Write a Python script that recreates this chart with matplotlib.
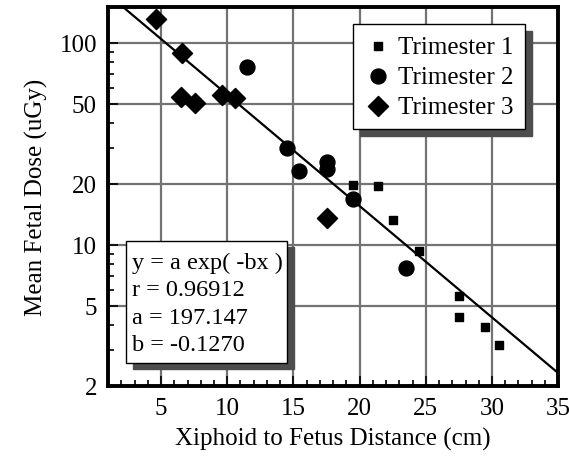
import numpy as np
import matplotlib.pyplot as plt
from matplotlib.ticker import FixedLocator, NullFormatter, LogLocator
from matplotlib.patches import Rectangle

plt.rcParams['font.family'] = ['Liberation Serif', 'DejaVu Serif']
plt.rcParams['font.size'] = 18

# dose vs. distance, per trimester
t1_x = [19.5, 21.4, 22.5, 24.5, 27.5, 27.5, 29.5, 30.5]
t1_y = [19.7, 19.6, 13.3, 9.3, 5.6, 4.4, 3.9, 3.2]
t2_x = [11.5, 14.5, 15.4, 17.5, 17.5, 19.5, 23.5]
t2_y = [76, 30, 23.3, 25.8, 23.8, 16.8, 7.7]
t3_x = [4.6, 6.6, 6.5, 7.6, 9.6, 10.6, 17.5]
t3_y = [131, 89, 54, 50.5, 55, 53.5, 13.5]

# exponential fit
fit_a = 197.147
fit_b = -0.1270
fit_r = 0.96912

fig = plt.figure(figsize=(5.69, 4.60), dpi=100)
ax = fig.add_axes([0.19, 0.159, 0.791, 0.823])
ax.set_yscale('log')
ax.set_xlim(1, 35)
ax.set_ylim(2, 150)

xs = np.linspace(1, 35, 200)
ax.plot(xs, fit_a * np.exp(fit_b * xs), color='black', lw=1.6, zorder=3)

ax.scatter(t1_x, t1_y, marker='s', s=26, color='black', zorder=4, label='Trimester 1')
ax.scatter(t2_x, t2_y, marker='o', s=115, color='black', zorder=4, label='Trimester 2')
ax.scatter(t3_x, t3_y, marker='D', s=105, color='black', zorder=4, label='Trimester 3')

ax.set_xticks([5, 10, 15, 20, 25, 30, 35])
ax.xaxis.set_minor_locator(FixedLocator(np.arange(1, 36, 1)))
ax.yaxis.set_major_locator(FixedLocator([2, 5, 10, 20, 50, 100]))
ax.yaxis.set_major_formatter(plt.FixedFormatter(['2', '5', '10', '20', '50', '100']))
ax.yaxis.set_minor_locator(LogLocator(base=10, subs=np.arange(2, 10)))
ax.yaxis.set_minor_formatter(NullFormatter())
ax.tick_params(which='both', direction='in', width=1.2)
ax.tick_params(which='major', length=7, pad=8)
ax.tick_params(which='minor', length=4)

ax.grid(True, which='major', color='0.45', lw=1.6)
ax.set_axisbelow(True)
for sp in ax.spines.values():
    sp.set_linewidth(2.8)

ax.set_xlabel('Xiphoid to Fetus Distance (cm)', labelpad=6)
ax.set_ylabel('Mean Fetal Dose (uGy)', labelpad=8)

# legend box
leg = ax.legend(loc='upper left', bbox_to_anchor=(0.544, 0.956), borderaxespad=0,
                fancybox=False, edgecolor='black', framealpha=1, borderpad=0.45,
                labelspacing=0.3, handletextpad=0.25, handlelength=1.1, fontsize=18)
leg.get_frame().set_linewidth(1.0)
leg.set_zorder(7)

# dark drop shadow behind the legend
fig.canvas.draw()
bb = leg.get_frame().get_window_extent().transformed(ax.transAxes.inverted())
dx, dy = 7 / ax.bbox.width, 7 / ax.bbox.height
ax.add_patch(Rectangle((bb.x0 + dx, bb.y0 - dy), bb.width, bb.height,
                       transform=ax.transAxes, color='0.3', zorder=6))

# fit parameter box
ax.add_patch(Rectangle((0.055, 0.045), 0.358, 0.323, transform=ax.transAxes,
                       color='0.3', zorder=6))
ax.add_patch(Rectangle((0.04, 0.06), 0.358, 0.323, transform=ax.transAxes,
                       facecolor='white', edgecolor='black', lw=1.0, zorder=7))
fit_text = (f'y = a exp( -bx )\nr = {fit_r:.5f}\na = {fit_a:.3f}\nb = {fit_b:.4f}')
ax.text(0.052, 0.355, fit_text, transform=ax.transAxes, va='top', ha='left',
        fontsize=17.5, linespacing=1.41, zorder=8)

fig.savefig('out.png', dpi=100)
